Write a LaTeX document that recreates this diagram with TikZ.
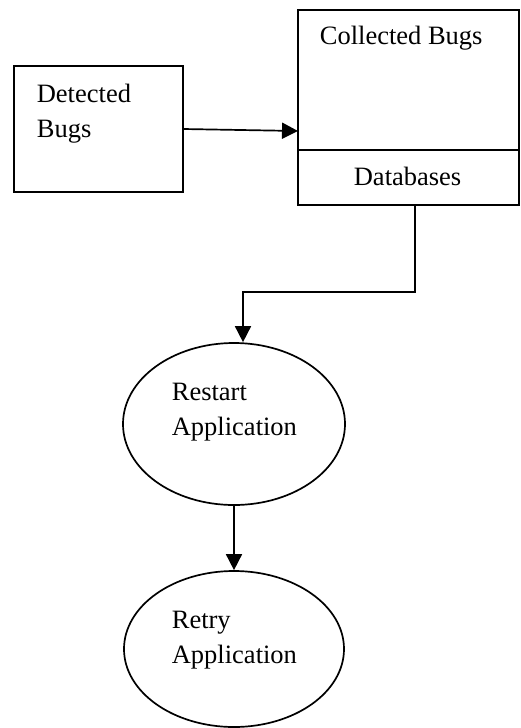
\documentclass[tikz,border=0pt]{standalone}
\usepackage{fontspec}
\setmainfont{Liberation Serif}
\usetikzlibrary{arrows.meta,shapes.geometric}
\begin{document}
\begin{tikzpicture}[x=1pt,y=-1pt,line width=1.7pt,
  box/.style={draw,rectangle,inner sep=0pt,outer sep=0pt},
  oval/.style={draw,ellipse,inner sep=0pt},
  txt/.style={anchor=base west,align=left,inner sep=0pt,
    font=\fontsize{26.5}{35}\selectfont},
  flow/.style={-{Triangle[length=16pt,width=16pt]}}]
\useasboundingbox (0,0) rectangle (521,728);
% boxes
\node[box,minimum width=169,minimum height=126] (detected) at (98.5,129) {};
\node[box,minimum width=221,minimum height=140] (collected) at (408.5,80) {};
\node[box,minimum width=221,minimum height=55,anchor=north] (db) at (collected.south) {};
% texts (base = last line)
\node[txt] (dtext) at (36,137) {Detected\\Bugs};
\node[txt] (ctext) at (319,44) {Collected Bugs};
\node[txt] (dbtext) at (353,185) {Databases};
% ellipses
\node[oval,minimum width=222,minimum height=162] (restart) at (234,424) {};
\node[oval,minimum width=220,minimum height=156] (retry) at (234,649) {};
\node[txt] (rstext) at (171,435) {Restart\\Application};
\node[txt] (rttext) at (171,663) {Retry\\Application};
% arrows
\draw[flow] (detected.east) -- ([yshift=-2pt]collected.west |- detected.east);
\draw[flow] ([xshift=6.5pt]db.south) -- ++(0,87) -| ([xshift=9pt]restart.north);
\draw[flow] (restart.south) -- (retry.north);
\end{tikzpicture}
\end{document}
